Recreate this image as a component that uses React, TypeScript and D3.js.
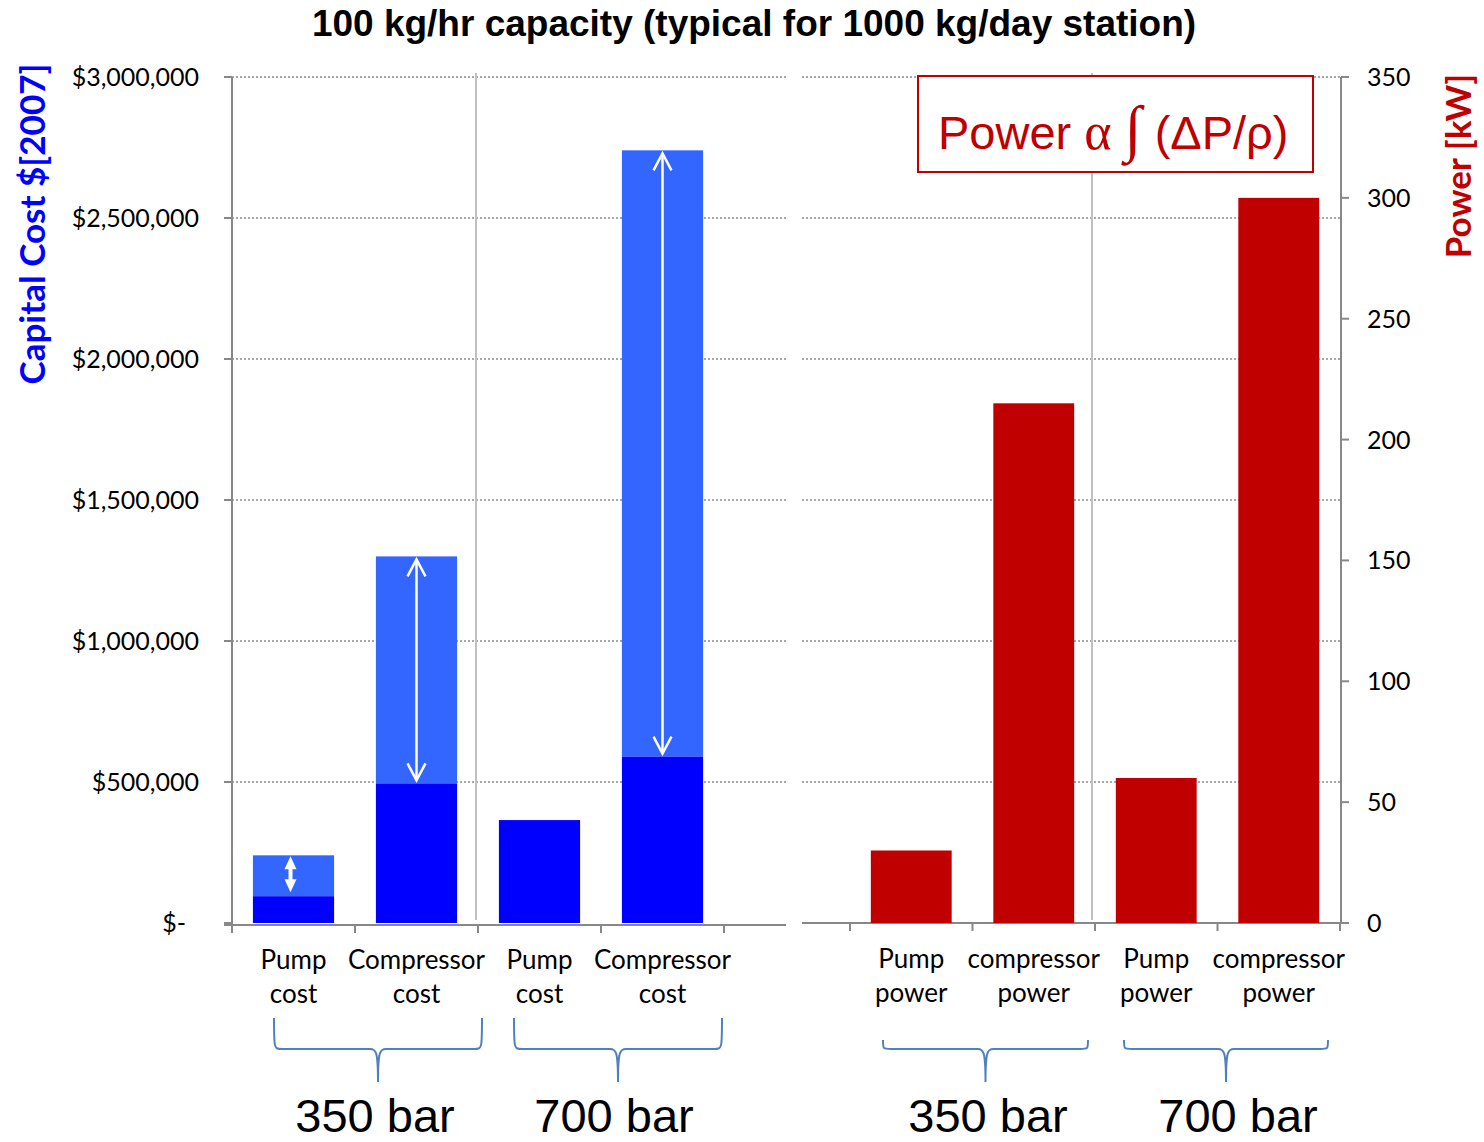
import React from "react";
import * as d3 from "d3";

const costCategories = ["Pump cost", "Compressor cost", "Pump cost", "Compressor cost"];
const costLabelLines = [["Pump", "cost"], ["Compressor", "cost"], ["Pump", "cost"], ["Compressor", "cost"]];
const costBase = [95000, 495000, 365000, 590000];
const costTotal = [240000, 1300000, 365000, 2740000];
const powerCategories = ["Pump power 350", "compressor power 350", "Pump power 700", "compressor power 700"];
const powerLabelLines = [["Pump", "power"], ["compressor", "power"], ["Pump", "power"], ["compressor", "power"]];
const powerValues = [30, 215, 60, 300];
const costTicks = [0, 500000, 1000000, 1500000, 2000000, 2500000, 3000000];
const powerTicks = [0, 50, 100, 150, 200, 250, 300, 350];
const groupLabels = ["350 bar", "700 bar"];

const W = 1484, H = 1142;
const Y0 = 923, Y1 = 77;
const CAL = "Lato, 'Open Sans', sans-serif";
const ARIAL = "'Liberation Sans', Arial, sans-serif";

export default function App() {
  const yCost = d3.scaleLinear().domain([0, 3000000]).range([Y0, Y1]);
  const yPow = d3.scaleLinear().domain([0, 350]).range([Y0, Y1]);
  const xL = d3.scaleBand<number>().domain(d3.range(4)).range([232, 724]).paddingInner(0.34).paddingOuter(0.17);
  const xR = d3.scaleBand<number>().domain(d3.range(4)).range([850, 1340]).paddingInner(0.34).paddingOuter(0.17);
  const fmt = (v: number) => (v === 0 ? "$-" : "$" + d3.format(",")(v));
  const stepL = xL.step();
  const stepR = xR.step();

  const brace = (x1: number, x2: number, top: number) => {
    const mid = (x1 + x2) / 2;
    const hy = 1049, bot = 1082;
    return `M${x1},${top} C${x1},${hy} ${x1},${hy} ${x1 + 8},${hy} L${mid - 8},${hy} C${mid - 2},${hy} ${mid},${hy + 2} ${mid},${bot} C${mid},${hy + 2} ${mid + 2},${hy} ${mid + 8},${hy} L${x2 - 8},${hy} C${x2},${hy} ${x2},${hy} ${x2},${top}`;
  };

  const chevron = (x: number, y: number, dir: number) =>
    `M${x - 9},${y + dir * 17} L${x},${y} L${x + 9},${y + dir * 17}`;

  return (
    <svg width={W} height={H} style={{ display: "block", position: "absolute", left: 0, top: 0, background: "#fff" }}>
      {/* title */}
      <text x={754} y={36} textAnchor="middle" fontFamily={ARIAL} fontWeight="bold" fontSize={37} fill="#000">
        100 kg/hr capacity (typical for 1000 kg/day station)
      </text>

      {/* gridlines */}
      {costTicks.filter(t => t > 0).map(t => (
        <g key={"g" + t}>
          <line x1={232} x2={786} y1={yCost(t)} y2={yCost(t)} stroke="#8c8c8c" strokeWidth={1.5} strokeDasharray="2,2" />
          <line x1={802} x2={1341} y1={yCost(t)} y2={yCost(t)} stroke="#8c8c8c" strokeWidth={1.5} strokeDasharray="2,2" />
        </g>
      ))}

      {/* separators */}
      <line x1={476} x2={476} y1={73} y2={920} stroke="#c0c0c0" strokeWidth={2} />
      <line x1={1092} x2={1092} y1={73} y2={920} stroke="#c0c0c0" strokeWidth={2} />

      {/* left axis */}
      <line x1={232} x2={232} y1={Y1} y2={Y0 + 2} stroke="#888" strokeWidth={2} />
      {costTicks.map(t => (
        <g key={"lt" + t}>
          <line x1={224} x2={232} y1={yCost(t)} y2={yCost(t)} stroke="#888" strokeWidth={2} />
          <text x={t === 0 ? 186 : 199} y={yCost(t) + 9} textAnchor="end" fontFamily={CAL} fontSize={25} fill="#000">{fmt(t)}</text>
        </g>
      ))}
      <text transform={`translate(45,224) rotate(-90)`} textAnchor="middle" fontFamily={CAL} fontWeight="bold" fontSize={35} fill="#0000FF">Capital Cost $[2007]</text>

      {/* left baseline */}
      <line x1={224} x2={786} y1={Y0 + 2} y2={Y0 + 2} stroke="#888" strokeWidth={2} />
      {d3.range(5).map(i => {
        const x = 232 + i * stepL;
        return <line key={"lx" + i} x1={x} x2={x} y1={Y0 + 2} y2={Y0 + 10} stroke="#888" strokeWidth={2} />;
      })}

      {/* cost bars */}
      {costCategories.map((c, i) => {
        const x = xL(i)!;
        const w = xL.bandwidth();
        return (
          <g key={"cb" + i}>
            {costTotal[i] > costBase[i] && (
              <rect x={x} y={yCost(costTotal[i])} width={w} height={yCost(costBase[i]) - yCost(costTotal[i])} fill="#3366FF" />
            )}
            <rect x={x} y={yCost(costBase[i])} width={w} height={Y0 - yCost(costBase[i])} fill="#0000FF" />
          </g>
        );
      })}

      {/* arrows on compressor bars */}
      {[1, 3].map(i => {
        const cx = xL(i)! + xL.bandwidth() / 2;
        const top = yCost(costTotal[i]) + 3;
        const bot = yCost(costBase[i]) - 3;
        return (
          <g key={"ar" + i} stroke="#fff" strokeWidth={2.5} fill="none">
            <line x1={cx} x2={cx} y1={top} y2={bot} />
            <path d={chevron(cx, top, 1)} />
            <path d={chevron(cx, bot, -1)} />
          </g>
        );
      })}
      {(() => {
        const cx = xL(0)! + xL.bandwidth() / 2 - 3;
        const top = yCost(costTotal[0]) + 1;
        const bot = yCost(costBase[0]) - 4;
        return (
          <g fill="#fff">
            <line x1={cx} x2={cx} y1={top + 10} y2={bot - 10} stroke="#fff" strokeWidth={4} />
            <path d={`M${cx},${top} L${cx - 6},${top + 13} L${cx + 6},${top + 13} Z`} />
            <path d={`M${cx},${bot} L${cx - 6},${bot - 13} L${cx + 6},${bot - 13} Z`} />
          </g>
        );
      })()}

      {/* cost category labels */}
      {costLabelLines.map((lines, i) => {
        const cx = xL(i)! + xL.bandwidth() / 2;
        return (
          <text key={"cl" + i} textAnchor="middle" fontFamily={CAL} fontSize={26} fill="#000">
            {lines.map((l, j) => (
              <tspan key={j} x={cx} y={969 + j * 34}>{l}</tspan>
            ))}
          </text>
        );
      })}

      {/* right axis */}
      <line x1={1341} x2={1341} y1={Y1} y2={Y0} stroke="#888" strokeWidth={2} />
      {powerTicks.map(t => (
        <g key={"rt" + t}>
          <line x1={1341} x2={1349} y1={yPow(t)} y2={yPow(t)} stroke="#888" strokeWidth={2} />
          <text x={1367} y={yPow(t) + 9} textAnchor="start" fontFamily={CAL} fontSize={25} fill="#000">{t}</text>
        </g>
      ))}
      <text transform={`translate(1471,166) rotate(-90)`} textAnchor="middle" fontFamily={CAL} fontWeight="bold" fontSize={35} fill="#C00000">Power [kW]</text>

      {/* right baseline */}
      <line x1={802} x2={1341} y1={Y0} y2={Y0} stroke="#888" strokeWidth={2} />
      {d3.range(5).map(i => {
        const x = 850 + i * stepR;
        return <line key={"rx" + i} x1={x} x2={x} y1={Y0} y2={Y0 + 8} stroke="#888" strokeWidth={2} />;
      })}

      {/* power bars */}
      {powerCategories.map((c, i) => (
        <rect key={"pb" + i} x={xR(i)!} y={yPow(powerValues[i])} width={xR.bandwidth()} height={Y0 - yPow(powerValues[i])} fill="#C00000" />
      ))}

      {/* power labels */}
      {powerLabelLines.map((lines, i) => {
        const cx = xR(i)! + xR.bandwidth() / 2;
        return (
          <text key={"pl" + i} textAnchor="middle" fontFamily={CAL} fontSize={26} fill="#000">
            {lines.map((l, j) => (
              <tspan key={j} x={cx} y={968 + j * 34}>{l}</tspan>
            ))}
          </text>
        );
      })}

      {/* legend box */}
      <rect x={918} y={76} width={395} height={96} fill="#fff" stroke="#C00000" strokeWidth={2} />
      <text x={938} y={149} fontFamily={ARIAL} fontSize={47} fill="#C00000">
        Power <tspan fontFamily="'Liberation Serif', serif" fontSize={52}>α</tspan> <tspan fontFamily="'Liberation Serif', serif" fontSize={62}>∫</tspan> (ΔP/ρ)
      </text>

      {/* braces */}
      {[[274, 482, 1018], [514, 722, 1018], [883, 1088, 1040], [1124, 1328, 1040]].map((b, i) => (
        <path key={"br" + i} d={brace(b[0], b[1], b[2])} fill="none" stroke="#4F81BD" strokeWidth={2} />
      ))}
      {[[375, 0], [614, 1], [988, 0], [1238, 1]].map((g, i) => (
        <text key={"gl" + i} x={g[0]} y={1132} textAnchor="middle" fontFamily={ARIAL} fontSize={47} fill="#000">{groupLabels[g[1]]}</text>
      ))}
    </svg>
  );
}
